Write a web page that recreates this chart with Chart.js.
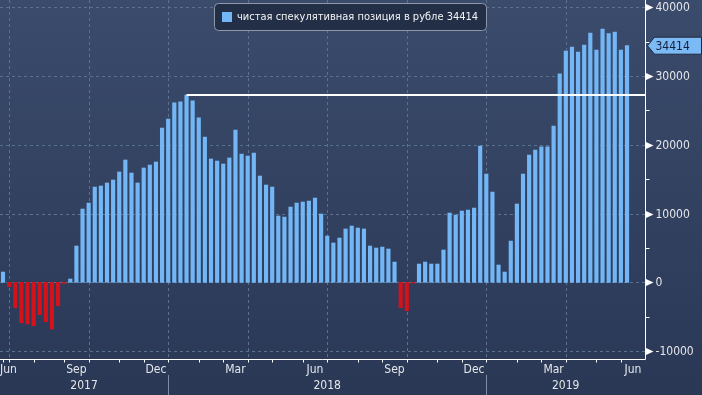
<!DOCTYPE html>
<html>
<head>
<meta charset="utf-8">
<script src="https://cdn.jsdelivr.net/npm/chart.js@4/dist/chart.umd.min.js"></script>
<style>
  html, body { margin: 0; padding: 0; background: #2c3a57; }
</style>
</head>
<body>
<canvas id="chart" width="702" height="395"></canvas>
<script>
// weekly CFTC-style data, first report date
const firstWeek = '2017-06-27';
const seriesName = 'чистая спекулятивная позиция в рубле';

// net speculative position, one value per week
const netPosition = [
  1500, -640, -3690, -5870, -6060, -6300, -4710, -5720, -6790, -3400,
  -150, 480, 5280, 10660, 11530, 13860, 14010, 14450, 14880, 16050,
  17790, 15900, 14450, 16630, 17060, 17500, 22450, 23760, 26090, 26240,
  27240, 26380, 23910, 21140, 17940, 17640, 17210, 18090, 22160, 18670,
  18370, 18810, 15460, 14150, 13860, 9650, 9490, 10950, 11530, 11680,
  11820, 12260, 9940, 6730, 5720, 6440, 7760, 8190, 7900, 7760,
  5280, 4990, 5130, 4850, 2950, -3690, -4130, -100, 2660, 2950,
  2660, 2660, 4700, 10080, 9790, 10370, 10510, 10800, 19820, 15750,
  13130, 2520, 1500, 6000, 11390, 15750, 18510, 19230, 19720, 19720,
  22730, 30340, 33640, 34230, 33500, 34520, 36260, 33790, 36840, 36160,
  36400, 33790, 34414
];

// week where the white reference line starts (the 2017/18 peak)
const peakWeek = 30;

const yTicks = [-10000, 0, 10000, 20000, 30000, 40000];
const monthNames = ['Jan', 'Feb', 'Mar', 'Apr', 'May', 'Jun', 'Jul', 'Aug', 'Sep', 'Oct', 'Nov', 'Dec'];
const labelledMonths = ['Mar', 'Jun', 'Sep', 'Dec'];

const weeks = netPosition.map((_, i) => {
  const d = new Date(firstWeek + 'T00:00:00Z');
  d.setUTCDate(d.getUTCDate() + 7 * i);
  return d;
});

// first report of every month -> axis tick
const monthTicks = [];
weeks.forEach((d, i) => {
  if (i === 0 || d.getUTCMonth() !== weeks[i - 1].getUTCMonth()) {
    monthTicks.push({ i: i, month: d.getUTCMonth(), year: d.getUTCFullYear() });
  }
});

const xMin = -0.49, xMax = 104.94;
const axisFont = '12px "DejaVu Sans Condensed", "DejaVu Sans", sans-serif';
const lastValue = netPosition[netPosition.length - 1];

function line(ctx, x1, y1, x2, y2) {
  ctx.beginPath();
  ctx.moveTo(x1, y1);
  ctx.lineTo(x2, y2);
  ctx.stroke();
}

const decor = {
  id: 'decor',
  beforeDraw(chart) {
    const { ctx, width, height } = chart;
    const g = ctx.createLinearGradient(0, 0, 0, height);
    g.addColorStop(0, '#3b4b6b');
    g.addColorStop(1, '#2a3856');
    ctx.save();
    ctx.fillStyle = g;
    ctx.fillRect(0, 0, width, height);
    ctx.restore();
  },
  beforeDatasetsDraw(chart) {
    const { ctx, chartArea: a, scales: { x, y } } = chart;
    ctx.save();
    ctx.strokeStyle = '#5a7290';
    ctx.lineWidth = 1;
    ctx.setLineDash([3, 3]);
    yTicks.forEach(v => {
      const py = Math.round(y.getPixelForValue(v)) + 0.5;
      line(ctx, a.left, py, a.right, py);
    });
    monthTicks.filter(m => m.month % 3 === 0).forEach(m => {
      const px = Math.round(x.getPixelForValue(m.i)) + 0.5;
      line(ctx, px, a.top, px, a.bottom);
    });
    ctx.restore();
  },
  afterDatasetsDraw(chart) {
    const { ctx, chartArea: a, scales: { x, y } } = chart;
    const bottom = Math.round(a.bottom) + 0.5;
    const right = Math.round(a.right) + 0.5;
    ctx.save();

    // axis lines
    ctx.strokeStyle = '#ffffff';
    ctx.lineWidth = 1;
    line(ctx, a.left, bottom, right, bottom);
    line(ctx, right, 0, right, bottom);

    // month ticks and labels
    ctx.font = axisFont;
    ctx.fillStyle = '#e4e6ea';
    ctx.textBaseline = 'middle';
    ctx.textAlign = 'center';
    monthTicks.forEach((m, k) => {
      const px = Math.round(x.getPixelForValue(m.i)) + 0.5;
      ctx.strokeStyle = '#ffffff';
      line(ctx, px, bottom, px, bottom + 3);
      const name = monthNames[m.month];
      if (labelledMonths.includes(name)) {
        const next = k + 1 < monthTicks.length ? x.getPixelForValue(monthTicks[k + 1].i) : a.right;
        const w = ctx.measureText(name).width;
        let cx = (x.getPixelForValue(m.i) + next) / 2;
        cx = Math.max(cx, a.left + w / 2);
        cx = Math.min(cx, a.right - w / 2);
        ctx.fillText(name, cx, 370);
      }
    });

    // years
    const years = [...new Set(monthTicks.map(m => m.year))];
    years.forEach((yr, k) => {
      const first = monthTicks.find(m => m.year === yr);
      const start = k === 0 ? a.left : x.getPixelForValue(first.i);
      const nextFirst = monthTicks.find(m => m.year === years[k + 1]);
      const end = nextFirst ? x.getPixelForValue(nextFirst.i) : a.right;
      ctx.fillText(String(yr), (start + end) / 2, 386);
      if (k > 0) {
        ctx.strokeStyle = '#7f8ca3';
        const px = Math.round(start) + 0.5;
        line(ctx, px, 375, px, chart.height);
      }
    });

    // right axis
    ctx.textAlign = 'left';
    yTicks.forEach((v, k) => {
      const py = Math.round(y.getPixelForValue(v));
      ctx.beginPath();
      ctx.moveTo(right + 0.5, py - 3);
      ctx.lineTo(right + 8, py + 0.5);
      ctx.lineTo(right + 0.5, py + 4);
      ctx.closePath();
      ctx.fillStyle = '#ffffff';
      ctx.fill();
      ctx.fillStyle = '#e4e6ea';
      ctx.fillText(String(v), right + 10, py + 1);
      if (k + 1 < yTicks.length) {
        const mid = Math.round(y.getPixelForValue((v + yTicks[k + 1]) / 2)) + 0.5;
        ctx.strokeStyle = '#ffffff';
        line(ctx, right, mid, right + 4, mid);
      }
    });

    // last value tag
    const ly = y.getPixelForValue(lastValue);
    ctx.beginPath();
    ctx.moveTo(right + 2, ly);
    ctx.lineTo(right + 9, ly - 8.5);
    ctx.lineTo(chart.width - 0.5, ly - 8.5);
    ctx.lineTo(chart.width - 0.5, ly + 8.5);
    ctx.lineTo(right + 9, ly + 8.5);
    ctx.closePath();
    ctx.fillStyle = '#7cbaf5';
    ctx.fill();
    ctx.strokeStyle = '#1d2940';
    ctx.stroke();
    ctx.fillStyle = '#14203a';
    ctx.fillText(String(lastValue), right + 10, ly + 1);

    // legend box
    const lx = 214, lyTop = 3.5, lw = 272, lh = 27;
    ctx.beginPath();
    ctx.roundRect(lx + 0.5, lyTop, lw, lh, 4);
    ctx.fillStyle = '#232f47';
    ctx.fill();
    ctx.strokeStyle = '#8e98aa';
    ctx.stroke();
    ctx.fillStyle = '#72b6f5';
    ctx.fillRect(lx + 8, 12, 10, 10);
    ctx.font = '11px "DejaVu Sans Condensed", "DejaVu Sans", sans-serif';
    ctx.fillStyle = '#f2f3f5';
    ctx.fillText(seriesName + ' ' + lastValue, lx + 23, 17.5);

    ctx.restore();
  }
};

new Chart(document.getElementById('chart'), {
  data: {
    datasets: [
      {
        type: 'line',
        data: [
          { x: peakWeek, y: netPosition[peakWeek] },
          { x: xMax, y: netPosition[peakWeek] }
        ],
        borderColor: '#ffffff',
        borderWidth: 2,
        pointRadius: 0,
        order: 0
      },
      {
        type: 'bar',
        label: seriesName,
        data: netPosition.map((v, i) => ({ x: i, y: v })),
        backgroundColor: netPosition.map(v => v < 0 ? '#d4121a' : '#72b6f5'),
        barThickness: 3.5,
        order: 1
      }
    ]
  },
  options: {
    responsive: false,
    animation: false,
    devicePixelRatio: 1,
    layout: { padding: { left: 0, top: 0, right: 57, bottom: 36 } },
    plugins: {
      legend: { display: false },
      tooltip: { enabled: false }
    },
    scales: {
      x: { type: 'linear', min: xMin, max: xMax, offset: false, display: false },
      y: { min: -11150, max: 41060, display: false }
    }
  },
  plugins: [decor]
});
</script>
</body>
</html>
